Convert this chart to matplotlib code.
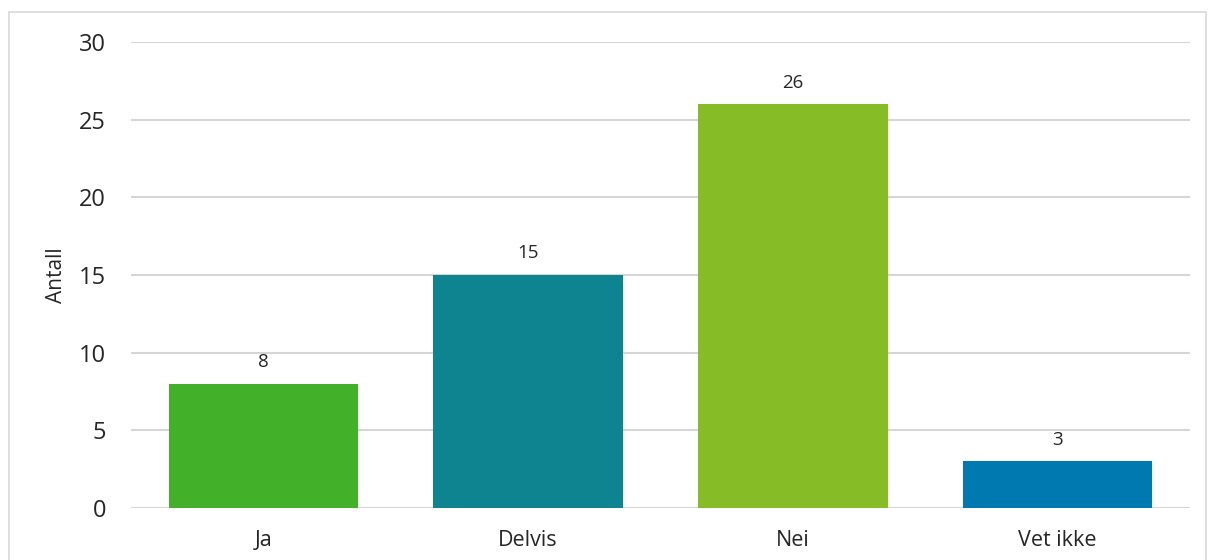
import matplotlib.pyplot as plt
from matplotlib.patches import Rectangle

categories = ['Ja', 'Delvis', 'Nei', 'Vet ikke']
counts = [8, 15, 26, 3]
colors = ['#43B02A', '#0E8490', '#86BC25', '#0079B0']
y_ticks = [0, 5, 10, 15, 20, 25, 30]

plt.rcParams['font.family'] = ['Open Sans', 'DejaVu Sans']
text_color = '#262626'

fig = plt.figure(figsize=(12.08, 5.6), dpi=100)
ax = fig.add_axes([131 / 1208, 52 / 560, 1059 / 1208, 466 / 560])

# ramme rundt figuren
fig.patches.append(Rectangle((9 / 1208, -0.1), 1197 / 1208, 1.1 - 12 / 560,
                             transform=fig.transFigure, fill=False,
                             edgecolor='#D9D9D9', linewidth=1.2))

x = list(range(len(categories)))
bars = ax.bar(x, counts, width=0.715, color=colors, zorder=3)

for xi, v in zip(x, counts):
    ax.annotate(str(v), (xi, v), xytext=(0, 9), textcoords='offset points',
                ha='center', va='bottom', fontsize=13.5, color=text_color)

ax.set_xlim(-0.5, len(categories) - 0.5)
ax.set_ylim(0, 30)
ax.set_yticks(y_ticks)
ax.set_xticks(x)
ax.set_xticklabels(categories)
ax.tick_params(axis='y', length=0, pad=18, labelsize=17, labelcolor=text_color)
ax.tick_params(axis='x', length=0, pad=16, labelsize=15.5, labelcolor=text_color)

ax.yaxis.grid(True, color='#D6D6D6', linewidth=1.5, zorder=0)
ax.set_axisbelow(True)
for s in ax.spines.values():
    s.set_visible(False)

ax.set_ylabel('Antall', fontsize=15, color=text_color)
ax.yaxis.set_label_coords(-0.060, 0.5)

fig.savefig('out.png', dpi=100)
